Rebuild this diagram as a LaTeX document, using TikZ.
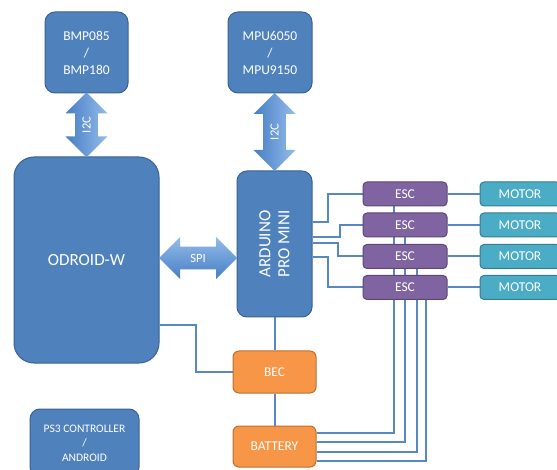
\documentclass[tikz,border=0pt]{standalone}
\usepackage{fontspec}
\setmainfont{Carlito}
\usetikzlibrary{calc,shapes.arrows,backgrounds}
\definecolor{boxblue}{RGB}{79,129,189}
\definecolor{boxblueline}{RGB}{58,98,148}
\definecolor{escpurple}{RGB}{128,100,162}
\definecolor{escline}{RGB}{92,71,118}
\definecolor{motorteal}{RGB}{75,172,198}
\definecolor{motorline}{RGB}{53,125,145}
\definecolor{powerorange}{RGB}{247,150,70}
\definecolor{powerline}{RGB}{190,110,50}
\definecolor{linkblue}{RGB}{88,136,196}
\definecolor{arrowlight}{RGB}{148,188,234}
\definecolor{arrowdark}{RGB}{70,126,196}
\tikzset{%
  box/.style={draw, line width=1pt, rounded corners=10pt, text=white,
    align=center, inner sep=0pt, font=\fontsize{13.5}{17}\selectfont},
  bluebox/.style={box, fill=boxblue, draw=boxblueline},
  escbox/.style={box, fill=escpurple, draw=escline, rounded corners=4pt,
    minimum width=84pt, minimum height=24pt},
  motorbox/.style={box, fill=motorteal, draw=motorline, rounded corners=4pt,
    minimum width=80pt, minimum height=24pt},
  powerbox/.style={box, fill=powerorange, draw=powerline, rounded corners=6pt,
    minimum width=83pt, minimum height=42pt},
  link/.style={linkblue, line width=2pt},
  dblarrow/.style={double arrow, double arrow head extend=9pt,
    minimum width=42pt, inner xsep=0pt, inner ysep=6.5pt, text=white,
    font=\fontsize{12.5}{14}\selectfont}
}
\begin{document}
\begin{tikzpicture}[x=1pt,y=1pt]

%definitions
\def\escX{405} % centre of the ESC column
\def\motorX{520} % centre of the motor column
\useasboundingbox (0,0) rectangle (557,-470);

%boards
\node[bluebox, minimum width=83pt, minimum height=81pt] (bmp) at (86.5,-52.5)
  {BMP085\\/\\BMP180};
\node[bluebox, minimum width=84pt, minimum height=81pt] (mpu) at (270,-52.5)
  {MPU6050\\/\\MPU9150};
\node[bluebox, minimum width=145pt, minimum height=206pt, rounded corners=20pt,
  font=\fontsize{17}{20}\selectfont] (odroid) at (86.5,-260) {ODROID-W};
\node[bluebox, minimum width=75pt, minimum height=146pt] (arduino) at (274.5,-244) {};
\node[rotate=90, text=white, align=center, font=\fontsize{17}{19}\selectfont]
  (ardtext) at (arduino) {ARDUINO\\PRO MINI};
\node[bluebox, minimum width=109pt, minimum height=68pt,
  font=\fontsize{11.5}{14.5}\selectfont] (ps3) at (84.5,-443)
  {PS3 CONTROLLER\\/\\ANDROID};
\node[powerbox] (bec) at (274.5,-372) {BEC};
\node[powerbox, minimum height=41pt] (battery) at (274.5,-446.5) {BATTERY};
\foreach \i/\y in {1/194,2/225,3/256.5,4/287.5} {
  \node[escbox] (esc\i) at (\escX,-\y) {ESC};
  \node[motorbox] (motor\i) at (\motorX,-\y) {MOTOR};
}

%buses
\node[dblarrow, rotate=90, minimum height=65pt, left color=arrowdark,
  right color=arrowlight] (i2cbmp) at ($(bmp.south)!.5!(odroid.north)$) {I2C};
\node[dblarrow, rotate=90, minimum height=78pt, left color=arrowdark,
  right color=arrowlight] (i2cmpu) at ($(mpu.south -| arduino.north)!.5!(arduino.north)$) {I2C};
\node[dblarrow, minimum height=78pt, top color=arrowlight, bottom color=arrowdark]
  (spi) at ($(odroid.east)!.5!(arduino.west |- odroid.east)+(0,2)$) {SPI};

%wires
\begin{scope}[on background layer]
\foreach \i/\dy/\dx in {1/22/-35,2/7/-23,3/1/-25,4/-13/-35}
  \draw[link] ([yshift=\dy pt]arduino.east) -| ([xshift=\dx pt]esc\i.west) -- (esc\i.west);
\foreach \i in {1,...,4}
  \draw[link] (esc\i.east) -- (motor\i.west);
\foreach \i/\dy/\dx in {1/13.5/-11,2/4.5/0,3/-5.5/12,4/-14.5/21}
  \draw[link] ([yshift=\dy pt]battery.east) -| ([xshift=\dx pt]esc\i.south);
\draw[link] (arduino.south) -- (bec.north);
\draw[link] (bec.south) -- (battery.north);
\draw[link] ([yshift=-65pt]odroid.east) -| ([xshift=-37pt]bec.west) -- (bec.west);
\end{scope}

\end{tikzpicture}
\end{document}
